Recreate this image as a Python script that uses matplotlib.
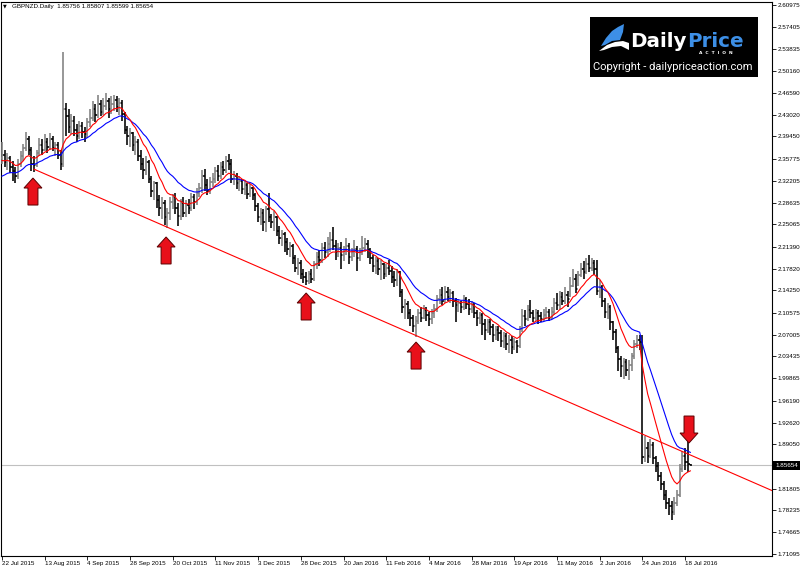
import numpy as np
import matplotlib
matplotlib.use("Agg")
import matplotlib.pyplot as plt
from matplotlib.collections import LineCollection
from matplotlib.patches import Polygon, Rectangle

# ---------------- data ----------------
title_text = "GBPNZD.Daily  1.85756 1.85807 1.85599 1.85654"
date_labels = ["22 Jul 2015", "13 Aug 2015", "4 Sep 2015", "28 Sep 2015", "20 Oct 2015",
               "11 Nov 2015", "3 Dec 2015", "28 Dec 2015", "20 Jan 2016", "11 Feb 2016",
               "4 Mar 2016", "28 Mar 2016", "19 Apr 2016", "11 May 2016", "2 Jun 2016",
               "24 Jun 2016", "18 Jul 2016"]
bars_per_label = 16
ytick_values = [2.60975, 2.57405, 2.53835, 2.50160, 2.46590, 2.43020, 2.39450, 2.35775,
                2.32205, 2.28635, 2.25065, 2.21390, 2.17820, 2.14250, 2.10575, 2.07005,
                2.03435, 1.99865, 1.96190, 1.92620, 1.89050, 1.81805, 1.78235, 1.74665,
                1.71095]
current_price = 1.85654
first_open = 2.360

closes = [
    2.365, 2.352, 2.360, 2.345, 2.338, 2.330, 2.350, 2.362, 2.375, 2.390,
    2.372, 2.350, 2.348, 2.368, 2.380, 2.372, 2.385, 2.378, 2.390, 2.375,
    2.380, 2.365, 2.350, 2.440, 2.428, 2.410, 2.420, 2.405, 2.395, 2.412,
    2.402, 2.398, 2.418, 2.425, 2.440, 2.430, 2.448, 2.435, 2.445, 2.452,
    2.440, 2.448, 2.455, 2.442, 2.450, 2.432, 2.405, 2.395, 2.400, 2.380,
    2.385, 2.362, 2.350, 2.340, 2.352, 2.325, 2.305, 2.318, 2.290, 2.278,
    2.285, 2.262, 2.270, 2.288, 2.295, 2.278, 2.265, 2.285, 2.270, 2.282,
    2.278, 2.295, 2.288, 2.302, 2.310, 2.330, 2.315, 2.305, 2.320, 2.325,
    2.338, 2.330, 2.345, 2.340, 2.355, 2.350, 2.325, 2.330, 2.318, 2.322,
    2.308, 2.315, 2.300, 2.310, 2.298, 2.280, 2.262, 2.270, 2.255, 2.275,
    2.262, 2.255, 2.262, 2.240, 2.228, 2.235, 2.222, 2.210, 2.215, 2.195,
    2.180, 2.188, 2.170, 2.165, 2.158, 2.170, 2.162, 2.185, 2.198, 2.192,
    2.212, 2.205, 2.218, 2.225, 2.215, 2.205, 2.212, 2.200, 2.208, 2.215,
    2.198, 2.206, 2.210, 2.195, 2.205, 2.212, 2.218, 2.208, 2.195, 2.182,
    2.190, 2.178, 2.185, 2.170, 2.180, 2.175, 2.165, 2.160, 2.172, 2.140,
    2.115, 2.120, 2.105, 2.098, 2.085, 2.092, 2.105, 2.098, 2.110, 2.102,
    2.095, 2.105, 2.112, 2.128, 2.135, 2.125, 2.140, 2.132, 2.138, 2.125,
    2.118, 2.122, 2.115, 2.128, 2.120, 2.112, 2.118, 2.105, 2.098, 2.102,
    2.088, 2.078, 2.090, 2.082, 2.070, 2.078, 2.072, 2.060, 2.068, 2.055,
    2.062, 2.050, 2.058, 2.052, 2.080, 2.100, 2.095, 2.110, 2.105, 2.098,
    2.105, 2.100, 2.095, 2.102, 2.108, 2.098, 2.108, 2.122, 2.118, 2.132,
    2.125, 2.135, 2.128, 2.150, 2.162, 2.145, 2.168, 2.178, 2.172, 2.185,
    2.180, 2.188, 2.178, 2.142, 2.148, 2.125, 2.108, 2.115, 2.090, 2.075,
    2.048, 2.030, 2.018, 2.025, 2.012, 2.020, 2.035, 2.055, 2.062, 2.058,
    1.870, 1.885, 1.872, 1.890, 1.868, 1.855, 1.838, 1.825, 1.808, 1.795,
    1.790, 1.780, 1.795, 1.808, 1.850, 1.872, 1.862, 1.858, 1.85654]

highs = [
    2.385, 2.372, 2.368, 2.362, 2.355, 2.345, 2.358, 2.370, 2.382, 2.402,
    2.395, 2.378, 2.362, 2.372, 2.392, 2.390, 2.398, 2.392, 2.400, 2.395,
    2.386, 2.385, 2.372, 2.533, 2.450, 2.440, 2.432, 2.428, 2.415, 2.420,
    2.418, 2.410, 2.425, 2.440, 2.452, 2.448, 2.462, 2.455, 2.458, 2.465,
    2.458, 2.460, 2.462, 2.460, 2.458, 2.455, 2.435, 2.412, 2.408, 2.402,
    2.395, 2.390, 2.372, 2.360, 2.362, 2.356, 2.330, 2.322, 2.320, 2.298,
    2.295, 2.290, 2.278, 2.295, 2.300, 2.302, 2.285, 2.292, 2.295, 2.290,
    2.292, 2.302, 2.300, 2.310, 2.318, 2.340, 2.342, 2.325, 2.328, 2.335,
    2.345, 2.348, 2.352, 2.355, 2.362, 2.366, 2.358, 2.338, 2.335, 2.330,
    2.325, 2.322, 2.318, 2.316, 2.312, 2.302, 2.285, 2.278, 2.275, 2.280,
    2.302, 2.268, 2.272, 2.265, 2.248, 2.242, 2.238, 2.228, 2.222, 2.218,
    2.200, 2.195, 2.192, 2.178, 2.172, 2.175, 2.178, 2.190, 2.205, 2.208,
    2.220, 2.222, 2.230, 2.238, 2.247, 2.225, 2.220, 2.222, 2.215, 2.228,
    2.220, 2.212, 2.225, 2.215, 2.212, 2.232, 2.228, 2.225, 2.212, 2.200,
    2.198, 2.195, 2.192, 2.188, 2.186, 2.192, 2.182, 2.175, 2.178, 2.175,
    2.145, 2.128, 2.125, 2.112, 2.102, 2.100, 2.112, 2.115, 2.118, 2.115,
    2.108, 2.112, 2.120, 2.135, 2.145, 2.148, 2.150, 2.148, 2.145, 2.142,
    2.130, 2.128, 2.125, 2.135, 2.132, 2.128, 2.125, 2.122, 2.110, 2.108,
    2.105, 2.095, 2.096, 2.095, 2.088, 2.085, 2.085, 2.078, 2.075, 2.072,
    2.070, 2.068, 2.065, 2.062, 2.085, 2.112, 2.110, 2.118, 2.127, 2.110,
    2.112, 2.110, 2.108, 2.112, 2.115, 2.112, 2.115, 2.130, 2.138, 2.142,
    2.140, 2.148, 2.142, 2.165, 2.178, 2.170, 2.175, 2.188, 2.190, 2.195,
    2.200, 2.196, 2.192, 2.192, 2.160, 2.152, 2.130, 2.122, 2.118, 2.092,
    2.080, 2.052, 2.035, 2.032, 2.030, 2.028, 2.040, 2.062, 2.070, 2.070,
    2.070, 1.905, 1.895, 1.900, 1.895, 1.872, 1.862, 1.845, 1.830, 1.815,
    1.802, 1.798, 1.805, 1.815, 1.858, 1.880, 1.885, 1.900, 1.85807]

lows = [
    2.350, 2.345, 2.340, 2.335, 2.322, 2.318, 2.325, 2.345, 2.355, 2.370,
    2.365, 2.338, 2.337, 2.345, 2.362, 2.365, 2.370, 2.368, 2.372, 2.370,
    2.362, 2.358, 2.340, 2.345, 2.395, 2.400, 2.398, 2.395, 2.385, 2.390,
    2.392, 2.385, 2.392, 2.410, 2.420, 2.418, 2.425, 2.428, 2.430, 2.438,
    2.425, 2.432, 2.436, 2.435, 2.430, 2.420, 2.398, 2.380, 2.378, 2.370,
    2.365, 2.355, 2.340, 2.325, 2.332, 2.318, 2.295, 2.290, 2.278, 2.265,
    2.260, 2.250, 2.245, 2.258, 2.275, 2.268, 2.248, 2.258, 2.262, 2.262,
    2.268, 2.272, 2.275, 2.282, 2.295, 2.302, 2.305, 2.298, 2.300, 2.312,
    2.318, 2.322, 2.325, 2.332, 2.335, 2.340, 2.318, 2.315, 2.308, 2.305,
    2.300, 2.298, 2.292, 2.296, 2.290, 2.272, 2.255, 2.250, 2.240, 2.238,
    2.255, 2.245, 2.240, 2.232, 2.218, 2.215, 2.205, 2.200, 2.198, 2.185,
    2.172, 2.168, 2.162, 2.155, 2.151, 2.153, 2.155, 2.158, 2.178, 2.182,
    2.188, 2.195, 2.198, 2.205, 2.208, 2.192, 2.198, 2.178, 2.190, 2.200,
    2.185, 2.190, 2.198, 2.175, 2.190, 2.200, 2.205, 2.195, 2.185, 2.172,
    2.170, 2.168, 2.160, 2.162, 2.165, 2.168, 2.155, 2.148, 2.150, 2.132,
    2.105, 2.095, 2.095, 2.085, 2.075, 2.066, 2.088, 2.090, 2.095, 2.092,
    2.085, 2.088, 2.098, 2.108, 2.120, 2.118, 2.122, 2.125, 2.122, 2.115,
    2.090, 2.108, 2.105, 2.110, 2.112, 2.102, 2.105, 2.098, 2.085, 2.088,
    2.070, 2.062, 2.072, 2.070, 2.058, 2.062, 2.060, 2.050, 2.048, 2.045,
    2.040, 2.038, 2.045, 2.040, 2.048, 2.075, 2.085, 2.092, 2.098, 2.090,
    2.092, 2.088, 2.090, 2.092, 2.095, 2.092, 2.095, 2.102, 2.110, 2.112,
    2.118, 2.120, 2.115, 2.132, 2.148, 2.138, 2.150, 2.165, 2.162, 2.170,
    2.172, 2.175, 2.168, 2.135, 2.130, 2.115, 2.098, 2.095, 2.078, 2.062,
    2.040, 2.010, 2.000, 1.998, 2.002, 1.996, 2.010, 2.030, 2.048, 2.045,
    1.858, 1.862, 1.860, 1.868, 1.858, 1.845, 1.830, 1.815, 1.800, 1.785,
    1.775, 1.767, 1.775, 1.790, 1.805, 1.845, 1.848, 1.845, 1.85599]

ema_fast_period, ema_slow_period = 10, 21
ema_fast_seed, ema_slow_seed = 2.353, 2.326
trend_points = [(12, 2.341), (155, 2.069)]
up_arrows = [(11.6, 2.3265), (61.5, 2.230), (114.0, 2.1383), (155.2, 2.058)]
down_arrows = [(257.5, 1.8927)]

# ---------------- figure ----------------
W, H = 800, 571
fig = plt.figure(figsize=(W / 100, H / 100), dpi=100)
ax = fig.add_axes([1 / W, 15 / H, 771 / W, 554 / H])
ax.set_xlim(-0.375, 288.6)
ax.set_ylim(1.70775, 2.61466)
FONT = "Liberation Sans"
FS = 4.5

closes_a = np.array(closes)
n = len(closes_a)
opens = np.r_[first_open, closes_a[:-1]]

# current price line
ax.axhline(current_price, color="#c0c0c0", lw=0.8, zorder=1)

# OHLC bars
segs, cols = [], []
for i in range(n):
    c = "#808080" if closes_a[i] >= opens[i] else "#000000"
    segs.append([(i, lows[i]), (i, highs[i])])
    segs.append([(i - 0.5, opens[i]), (i, opens[i])])
    segs.append([(i, closes_a[i]), (i + 0.5, closes_a[i])])
    cols += [c, c, c]
ax.add_collection(LineCollection(segs, colors=cols, linewidths=1.15, zorder=3))


def ema(vals, period, seed):
    a = 2.0 / (period + 1)
    out = []
    prev = seed
    for v in vals:
        prev = prev + a * (v - prev)
        out.append(prev)
    return np.array(out)


idx = np.arange(n)
ax.plot(idx, ema(closes_a, ema_slow_period, ema_slow_seed), color="#0000ff", lw=0.8, zorder=4)
ax.plot(idx, ema(closes_a, ema_fast_period, ema_fast_seed), color="#ff0000", lw=0.8, zorder=4)

# trend line (ray)
(x1, y1), (x2, y2) = trend_points
slope = (y2 - y1) / (x2 - x1)
xe = 288.6
ax.plot([x1, xe], [y1, y1 + slope * (xe - x1)], color="#ff0000", lw=0.8, zorder=4)

# axes styling
for s in ax.spines.values():
    s.set_color("black")
    s.set_linewidth(0.8)
ax.set_facecolor("white")
ax.yaxis.tick_right()
ax.set_yticks(ytick_values)
ax.set_yticklabels([f"{v:.5f}" for v in ytick_values], fontsize=FS, family=FONT)
ax.tick_params(axis="y", direction="out", length=3, width=0.6, pad=0.8)
ax.set_xticks([k * bars_per_label for k in range(len(date_labels))])
ax.set_xticklabels(date_labels, fontsize=FS, family=FONT, ha="left")
ax.tick_params(axis="x", direction="out", length=3, width=0.6, pad=0.5)

# ---------------- overlay in pixel coordinates ----------------
ov = fig.add_axes([0, 0, 1, 1], zorder=10)
ov.set_xlim(0, W)
ov.set_ylim(H, 0)
ov.axis("off")
ov.patch.set_alpha(0)


def to_px(x, y):
    dx, dy = ax.transData.transform((x, y))
    return dx, H - dy


def arrow(x, y, up=True):
    px, py = to_px(x, y)
    s = 1 if up else -1
    hw, sw, hh, tot = 9, 5, 10, 27
    pts = [(px, py), (px + hw, py + s * hh), (px + sw, py + s * hh), (px + sw, py + s * tot),
           (px - sw, py + s * tot), (px - sw, py + s * hh), (px - hw, py + s * hh)]
    ov.add_patch(Polygon(pts, closed=True, facecolor="#e8101a", edgecolor="#5a0000", lw=0.7))


for a in up_arrows:
    arrow(*a, up=True)
for a in down_arrows:
    arrow(*a, up=False)

# current price tag
_, cy = to_px(0, current_price)
ov.add_patch(Rectangle((773, cy - 4.5), 27, 9, facecolor="black", edgecolor="none"))
ov.text(775, cy, f"{current_price:.5f}", color="white", fontsize=FS, family=FONT,
        va="center", ha="left")

# title
ov.text(3, 6, "\u25BC", fontsize=3.5, va="center", ha="left", color="black")
ov.text(12, 6.5, title_text, fontsize=FS, family=FONT, va="center", ha="left", color="black")

# logo
ov.add_patch(Rectangle((590, 17), 168, 60, facecolor="black", edgecolor="none"))
ov.add_patch(Polygon([(601, 46), (606, 38), (612, 31), (618, 27), (624, 24), (623, 32),
                      (620, 40), (612, 41), (605, 45)], closed=True, facecolor="#3d8fe6",
                     edgecolor="none"))
ov.add_patch(Polygon([(599, 51), (607, 45), (615, 42), (623, 41), (629, 43), (629, 50),
                      (621, 46), (612, 47), (604, 50)], closed=True, facecolor="white",
                     edgecolor="none"))
ov.text(630, 47, "Daily", color="white", fontsize=14.3, fontweight="bold",
        family="DejaVu Sans", va="baseline", ha="left")
ov.text(687, 47, "Price", color="#3d8fe6", fontsize=14.3, fontweight="bold",
        family="DejaVu Sans", va="baseline", ha="left")
ov.text(716, 53.5, "A  C  T  I  O  N", color="white", fontsize=3.2, fontweight="bold",
        family="DejaVu Sans", va="center", ha="center")
ov.text(673, 67.5, "Copyright - dailypriceaction.com", color="white", fontsize=8,
        family="Roboto", va="center", ha="center")

fig.savefig("out.png", dpi=100, facecolor="white")
